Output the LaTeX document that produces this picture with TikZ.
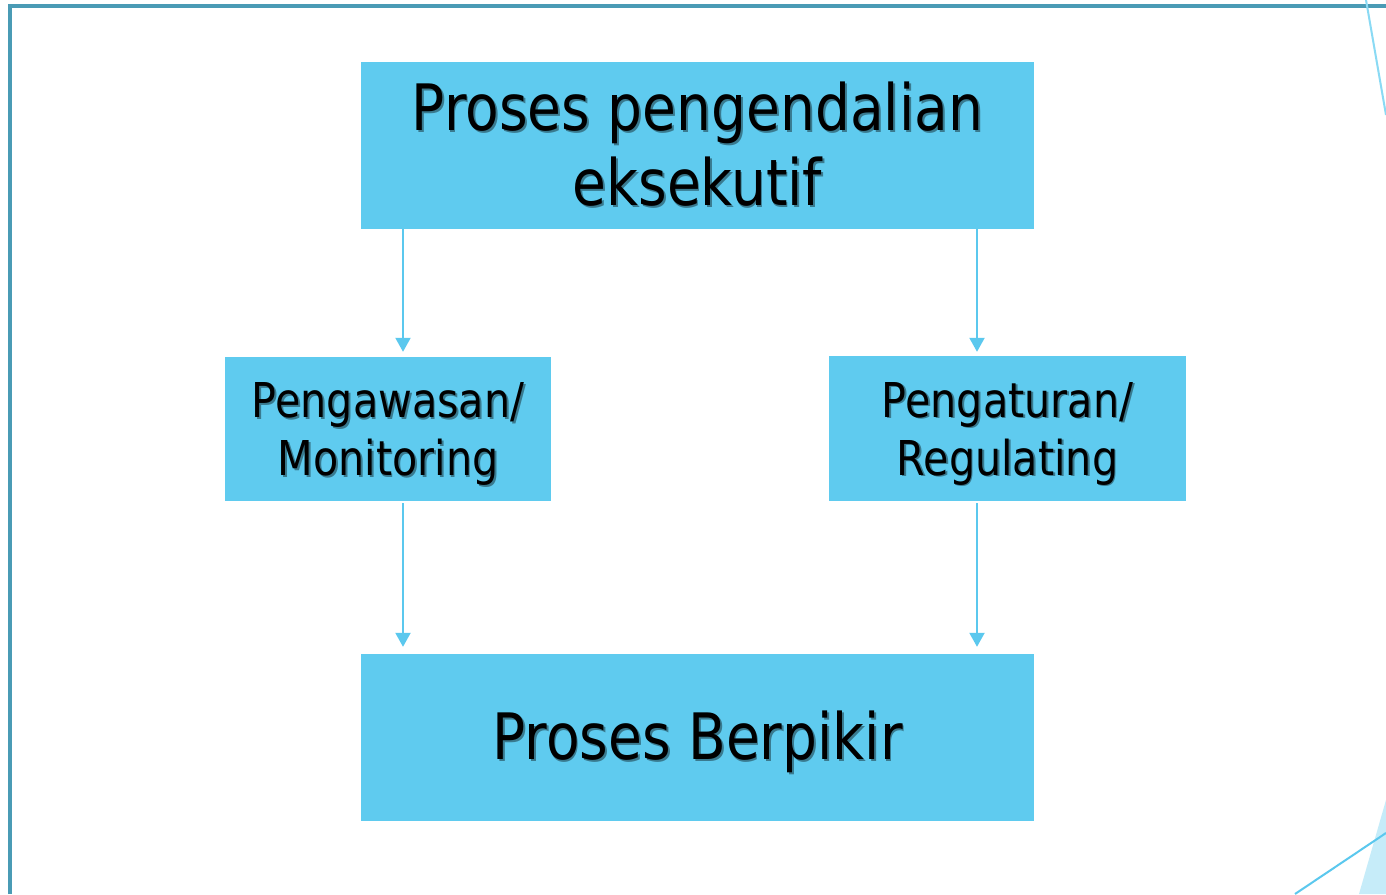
\documentclass[tikz,border=0pt]{standalone}
\usepackage{fontspec}
\setmainfont{DejaVu Sans}[FakeStretch=0.86]
\usetikzlibrary{arrows.meta}
\definecolor{boxblue}{HTML}{5FCBEF}
\definecolor{arrblue}{HTML}{5BC8EE}
\definecolor{framecol}{HTML}{4A9BB5}
\definecolor{decoline}{HTML}{8ADAF4}
\definecolor{decofill}{HTML}{C6ECF9}
\newcommand\shtxt[1]{\leavevmode\rlap{\hspace{1.8pt}\raisebox{-1.8pt}{\textcolor{boxblue!60!black}{#1}}}#1}
\newcommand\lowered[2]{\raisebox{#1}[\height][\depth]{\begin{tabular}{@{}c@{}}#2\end{tabular}}}
\tikzset{
  box/.style={fill=boxblue, draw=none, align=center, inner sep=0pt, text=black},
  arr/.style={draw=arrblue, line width=2pt, -{Triangle[width=15pt,length=14pt]}},
}
\begin{document}
\begin{tikzpicture}[x=1pt,y=-1pt]
\useasboundingbox (0,0) rectangle (1386,894);
\fill[white] (0,0) rectangle (1386,894);
% frame
\draw[framecol, line width=4pt] (10,894) -- (10,5.5) -- (1386,5.5);
% decorations
\draw[decoline, line width=2pt] (1366,0) -- (1386,115);
\fill[decofill] (1386,800) -- (1359,894) -- (1386,894) -- cycle;
\draw[arrblue, line width=2pt] (1295,894) -- (1386,833);
% boxes
\node[box, minimum width=673pt, minimum height=167pt, font=\fontsize{64}{75}\selectfont] (top) at (697.5,145.5) {\shtxt{Proses pengendalian}\\\shtxt{eksekutif}};
\node[box, minimum width=326pt, minimum height=144pt, font=\fontsize{48}{58}\selectfont] (mon) at (388,429) {\lowered{-6pt}{\shtxt{Pengawasan/}\\\shtxt{Monitoring}}};
\node[box, minimum width=357pt, minimum height=145pt, font=\fontsize{48}{58}\selectfont] (reg) at (1007.5,428.5) {\lowered{-6pt}{\shtxt{Pengaturan/}\\\shtxt{Regulating}}};
\node[box, minimum width=673pt, minimum height=167pt, font=\fontsize{64}{75}\selectfont] (bot) at (697.5,737.5) {\lowered{-7pt}{\shtxt{Proses Berpikir}}};
% arrows
\draw[arr, shorten >=5pt] ([xshift=-294.5pt]top.south) -- ([xshift=-294.5pt]top.south |- mon.north);
\draw[arr, shorten >=4pt] ([xshift=279.5pt]top.south) -- ([xshift=279.5pt]top.south |- reg.north);
\draw[arr, shorten <=2pt, shorten >=7pt] ([xshift=15pt]mon.south) -- ([xshift=15pt]mon.south |- bot.north);
\draw[arr, shorten <=2pt, shorten >=7pt] ([xshift=-30.5pt]reg.south) -- ([xshift=-30.5pt]reg.south |- bot.north);
\end{tikzpicture}
\end{document}
